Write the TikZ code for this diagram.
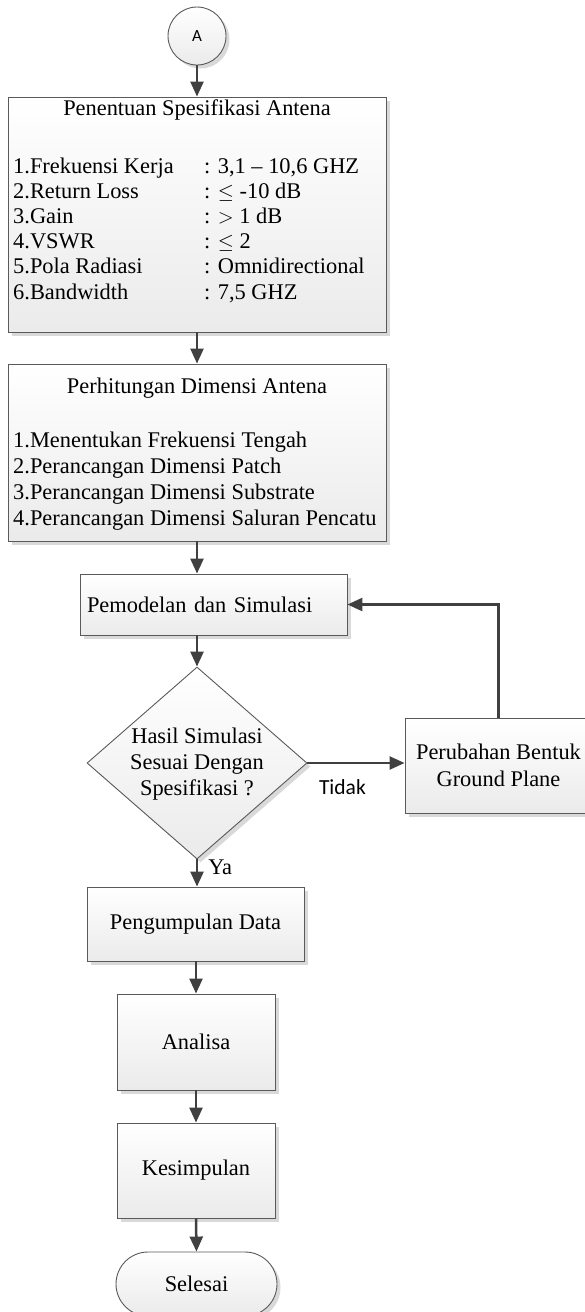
\documentclass[tikz,border=0pt]{standalone}
\usepackage{fontspec}
\setmainfont{Liberation Serif}
\newfontfamily\calibrifont{Carlito}
\usetikzlibrary{arrows.meta,shapes.geometric,shapes.misc,shadows}
\definecolor{linegray}{HTML}{404040}
\definecolor{bordergray}{HTML}{5A5A5A}
\tikzset{
  procbox/.style={draw=bordergray, line width=0.9pt, top color=white, bottom color=black!8,
    drop shadow={shadow xshift=3.5pt, shadow yshift=-3.5pt, fill=black!15, opacity=1},
    inner sep=0pt, align=center, font=\fontsize{22.4}{27}\selectfont},
  flow/.style={draw=linegray, line width=2.5pt, -{Triangle[length=15pt,width=13pt]}},
  txt/.style={inner sep=0pt, font=\fontsize{22.4}{25.2}\selectfont},
}
\begin{document}
\begin{tikzpicture}[x=1pt,y=-1pt]
\useasboundingbox (0,0) rectangle (585,1312);
% start connector
\node[procbox, circle, minimum size=58pt, font=\calibrifont\fontsize{17}{20}\selectfont] (start) at (197,36) {A};
% box 1
\node[procbox, minimum width=378pt, minimum height=235pt] (spec) at (197,214.5) {};
\node[txt] (spectitle) at (197,110) {Penentuan Spesifikasi Antena};
\node[txt, anchor=base west] (speclist) at (13,173) {\fontsize{22.4}{25.2}\selectfont\renewcommand{\arraystretch}{1}%
\begin{tabular}[t]{@{}p{191pt}@{}l@{}}
1.Frekuensi Kerja & : 3,1 -- 10,6 GHZ\\
2.Return Loss & : $\leq$ -10 dB\\
3.Gain & : $>$ 1 dB\\
4.VSWR & : $\leq$ 2\\
5.Pola Radiasi & : Omnidirectional\\
6.Bandwidth & : 7,5 GHZ
\end{tabular}};
% box 2
\node[procbox, minimum width=378pt, minimum height=177pt] (dim) at (197,452.5) {};
\node[txt] (dimtitle) at (197,388) {Perhitungan Dimensi Antena};
\node[txt, anchor=base west] (dimlist) at (13,447) {\fontsize{22.4}{26}\selectfont\renewcommand{\arraystretch}{1}%
\begin{tabular}[t]{@{}l@{}}
1.Menentukan Frekuensi Tengah\\
2.Perancangan Dimensi Patch\\
3.Perancangan Dimensi Substrate\\
4.Perancangan Dimensi Saluran Pencatu
\end{tabular}};
% box 3
\node[procbox, minimum width=267pt, minimum height=61pt, text width=253pt, inner xsep=7pt, align=left] (model) at (213.5,604.5) {Pemodelan dan Simulasi};
% decision
\node[procbox, diamond, minimum width=220pt, minimum height=192pt, aspect=1.146] (dec) at (197,763) {};
\node[txt, align=center, font=\fontsize{22.4}{26}\selectfont] (dectext) at (197,764) {Hasil Simulasi\\Sesuai Dengan\\Spesifikasi ?};
% change box
\node[procbox, minimum width=187pt, minimum height=95pt] (change) at (498.5,765.5) {Perubahan Bentuk\\Ground Plane};
% lower boxes
\node[procbox, minimum width=217pt, minimum height=74pt] (data) at (195.5,924) {Pengumpulan Data};
\node[procbox, minimum width=158pt, minimum height=96pt] (anal) at (196,1042) {Analisa};
\node[procbox, minimum width=158pt, minimum height=95pt] (kes) at (196,1170.5) {Kesimpulan};
\node[procbox, rounded rectangle, minimum width=161pt, minimum height=64pt] (end) at (196.5,1284) {Selesai};
% connectors
\draw[flow] (start.south) -- (start.south |- spec.north);
\draw[flow] (spec.south) -- (spec.south |- dim.north);
\draw[flow] (dim.south) -- (dim.south |- model.north);
\draw[flow] (model.south -| dec.north) -- (dec.north);
\draw[flow] (dec.east) -- node[below=15pt, pos=0.36, inner sep=0pt, font=\calibrifont\fontsize{21.5}{24}\selectfont] (tidak) {Tidak} (dec.east -| change.west);
\draw[flow] (change.north) |- (model.east);
\draw[flow] (dec.south) -- node[right=10pt, pos=0.3, inner sep=0pt, font=\fontsize{22.4}{26}\selectfont] (ya) {Ya} (dec.south |- data.north);
\draw[flow] (data.south -| anal.north) -- (anal.north);
\draw[flow] (anal.south) -- (kes.north);
\draw[flow] (kes.south) -- (end.north);
\end{tikzpicture}
\end{document}
